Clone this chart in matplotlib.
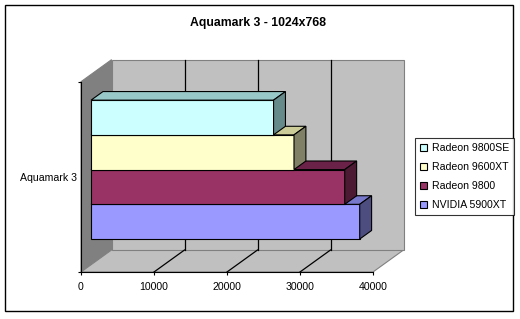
import matplotlib.pyplot as plt
from matplotlib.patches import Polygon, Patch, Rectangle

plt.rcParams['font.family'] = ['Liberation Sans', 'DejaVu Sans']

title = 'Aquamark 3 - 1024x768'
category = 'Aquamark 3'
# bottom to top, as drawn
series = ['NVIDIA 5900XT', 'Radeon 9800', 'Radeon 9600XT', 'Radeon 9800SE']
scores = [36800, 34750, 27800, 25000]
xticks = [0, 10000, 20000, 30000, 40000]

front = ['#9999FF', '#993366', '#FFFFCC', '#CCFFFF']
top = ['#7777CC', '#6B2248', '#CCCC99', '#99C8C8']
side = ['#4D4D80', '#4D1A33', '#808066', '#668A8A']

W, H = 520, 319
fig = plt.figure(figsize=(W / 100, H / 100), dpi=100)
fig.patches.append(Rectangle((5 / W, 8 / H), 508 / W, 306 / H,
                             transform=fig.transFigure, fill=False,
                             ec='black', lw=1))

# front plane of the 3d box
ax = fig.add_axes([81 / W, 47 / H, 292 / W, 190.3 / H])
xmax = xticks[-1]
ax.set_xlim(0, xmax)
ax.set_ylim(0, 1)
DX = 30.5 / 292 * xmax
DY = 22.0 / 190.3

gray = '#808080'
light = '#C0C0C0'


def poly(pts, fc, ec='black', lw=0.8, z=1):
    ax.add_patch(Polygon(pts, closed=True, fc=fc, ec=ec, lw=lw,
                         zorder=z, clip_on=False))


# walls
poly([(0, 0), (0, 1), (DX, 1 + DY), (DX, DY)], gray, ec=gray, z=1)
poly([(0, 0), (xmax, 0), (xmax + DX, DY), (DX, DY)], light, ec=gray, z=1)
poly([(DX, DY), (xmax + DX, DY), (xmax + DX, 1 + DY), (DX, 1 + DY)],
     light, ec=gray, z=1)

# gridlines
for v in xticks[1:-1]:
    ax.plot([v + DX, v + DX], [DY, 1 + DY], color='black', lw=0.9,
            zorder=2, clip_on=False)
    ax.plot([v, v + DX], [0, DY], color='black', lw=0.9, zorder=2,
            clip_on=False)

# bars
f0, fd = 0.33, 0.39
ox, oy = f0 * DX, f0 * DY
bx, by = fd * DX, fd * DY
h = 0.1825
ybase = 0.5 - h * len(series) / 2
for i, v in enumerate(scores):
    y0 = ybase + i * h + oy
    y1 = y0 + h
    z = 3 + i
    poly([(ox, y0), (ox + v, y0), (ox + v, y1), (ox, y1)], front[i], z=z)
    poly([(ox, y1), (ox + v, y1), (ox + v + bx, y1 + by), (ox + bx, y1 + by)],
         top[i], z=z)
    poly([(ox + v, y0), (ox + v + bx, y0 + by), (ox + v + bx, y1 + by),
          (ox + v, y1)], side[i], z=z)

# axes
for s in ['top', 'right']:
    ax.spines[s].set_visible(False)
ax.spines['left'].set_zorder(10)
ax.spines['bottom'].set_zorder(10)
ax.set_xticks(xticks)
ax.set_xticklabels([str(t) for t in xticks])
ax.set_yticks([0, 1])
ax.set_yticklabels(['', ''])
ax.set_yticks([0.5], minor=True)
ax.set_yticklabels([category], minor=True)
ax.tick_params(axis='both', which='major', length=2.5, width=0.8,
               labelsize=7.6, pad=4.5)
ax.tick_params(axis='y', which='minor', length=0, labelsize=7.6, pad=3)
ax.patch.set_visible(False)

fig.text(257.5 / W, 1 - 23 / H, title, ha='center', va='center',
         fontsize=8.8, fontweight='bold')

handles = [Patch(fc=front[i], ec='black', lw=0.8) for i in range(len(series))][::-1]
leg = fig.legend(handles, series[::-1], loc='upper left',
                 bbox_to_anchor=(415 / W, 1 - 138 / H), fontsize=7.6,
                 frameon=True, fancybox=False, shadow=False,
                 handlelength=0.6, handleheight=0.6, handletextpad=0.5,
                 labelspacing=0.85, borderpad=0.5, borderaxespad=0)
leg.get_frame().set_edgecolor('black')
leg.get_frame().set_linewidth(0.8)

fig.savefig('out.png', dpi=100)
